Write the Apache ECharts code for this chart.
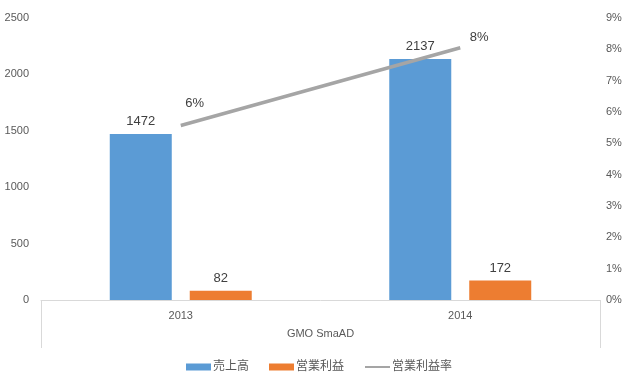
<!DOCTYPE html>
<html>
<head>
<meta charset="utf-8">
<script src="https://cdn.jsdelivr.net/npm/echarts@6/dist/echarts.min.js"></script>
<style>
  html, body { margin: 0; padding: 0; background: #fff; }
  #chart { width: 638px; height: 377px; }
</style>
</head>
<body>
<div id="chart"></div>
<script>
var years = ['2013', '2014']
var groupName = ['GMO SmaAD']
var sales = [1472, 2137]
var profit = [82, 172]
var margin = [0.0557, 0.0805]

var font = '"Liberation Sans", "Noto Sans CJK JP", sans-serif'
var chart = echarts.init(document.getElementById('chart'))

var barLabel = {
  show: true,
  position: 'top',
  distance: 6,
  color: '#404040',
  fontSize: 13,
  fontFamily: font
}

// line labels sit up and to the right of each point
var lineOffsets = [[14, -10], [19, 2]]

var options = {
  animation: false,
  textStyle: { fontFamily: font },
  grid: { left: 41, right: 38, top: 18, bottom: 77 },
  legend: {
    left: 'center',
    top: 356,
    itemWidth: 25,
    itemHeight: 7,
    itemGap: 20,
    textStyle: { color: '#595959', fontSize: 12, fontFamily: font, padding: [0, 0, 0, -3] },
    data: [
      { name: '売上高', icon: 'rect' },
      { name: '営業利益', icon: 'rect' },
      { name: '営業利益率' }
    ]
  },
  xAxis: [{
    type: 'category',
    data: years,
    axisLine: { lineStyle: { color: '#d9d9d9' } },
    axisTick: { show: false },
    axisLabel: { color: '#595959', fontSize: 11, margin: 10 }
  }, {
    type: 'category',
    data: groupName,
    position: 'bottom',
    offset: 0,
    axisLine: { show: false },
    axisTick: { show: true, length: 48, lineStyle: { color: '#d9d9d9' } },
    axisLabel: { color: '#595959', fontSize: 11, margin: 28 }
  }],
  yAxis: [{
    type: 'value',
    min: 0,
    max: 2500,
    interval: 500,
    splitLine: { show: false },
    axisLine: { show: false },
    axisTick: { show: false },
    axisLabel: {
      color: '#595959',
      fontSize: 11,
      margin: 12,
      formatter: function (v) { return String(v) }
    }
  }, {
    type: 'value',
    min: 0,
    max: 0.09,
    interval: 0.01,
    position: 'right',
    splitLine: { show: false },
    axisLine: { show: false },
    axisTick: { show: false },
    axisLabel: {
      color: '#595959',
      fontSize: 11,
      margin: 6,
      formatter: function (v) { return Math.round(v * 100) + '%' }
    }
  }],
  series: [{
    name: '売上高',
    type: 'bar',
    data: sales,
    barWidth: 62,
    barGap: '29%',
    itemStyle: { color: '#5B9BD5' },
    label: barLabel
  }, {
    name: '営業利益',
    type: 'bar',
    data: profit,
    barWidth: 62,
    barGap: '29%',
    itemStyle: { color: '#ED7D31' },
    label: barLabel
  }, {
    name: '営業利益率',
    type: 'line',
    yAxisIndex: 1,
    symbol: 'circle',
    symbolSize: 1,
    showSymbol: true,
    data: margin.map(function (v, i) {
      return { value: v, label: { offset: lineOffsets[i] } }
    }),
    lineStyle: { color: '#A5A5A5', width: 3.5 },
    itemStyle: { color: 'rgba(165,165,165,0)', borderWidth: 0 },
    label: {
      show: true,
      position: 'top',
      color: '#404040',
      fontSize: 13,
      fontFamily: font,
      formatter: function (p) { return Math.round(p.value * 100) + '%' }
    }
  }]
}

chart.setOption(options)
</script>
</body>
</html>
